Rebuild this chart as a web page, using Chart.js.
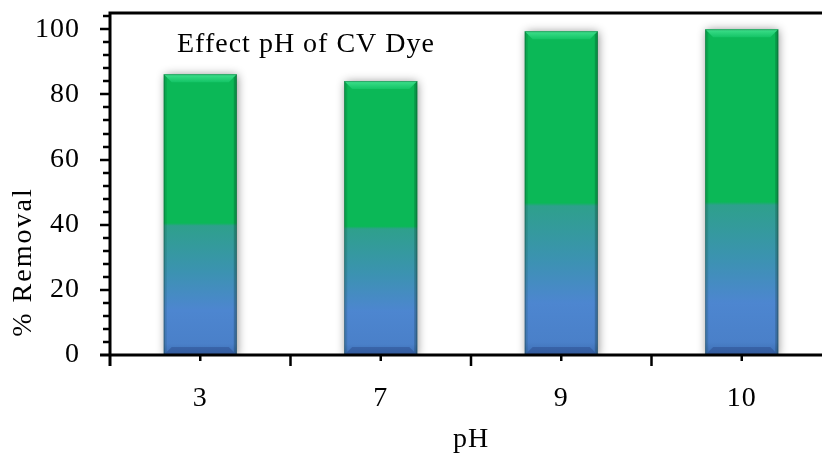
<!DOCTYPE html>
<html>
<head>
<meta charset="utf-8">
<script src="https://cdn.jsdelivr.net/npm/chart.js@4.4.0/dist/chart.umd.min.js"></script>
<style>
  html, body { margin: 0; padding: 0; background: #fff; overflow: hidden; }
  #wrap { width: 840px; height: 456px; }
</style>
</head>
<body>
<div id="wrap"><canvas id="grafico"></canvas></div>
<script>
// datos
const categorias = ['3', '7', '9', '10'];
const remocion = [86.2, 84.1, 99.4, 100];
const ticksY = [0, 20, 40, 60, 80, 100];
const etiqueta = 'Effect pH of CV Dye';
const tituloY = '% Removal';

const fuente = "'Liberation Serif', 'Times New Roman', serif";

function degradado(ctx) {
  const chart = ctx.chart;
  if (!chart.chartArea) return '#0bb857';
  const y = chart.scales.y;
  const tope = y.getPixelForValue(ctx.raw);
  const base = y.getPixelForValue(0);
  const g = chart.ctx.createLinearGradient(0, base, 0, tope);
  g.addColorStop(0, '#3c6db3');
  g.addColorStop(0.04, '#4a80c9');
  g.addColorStop(0.16, '#4d86d0');
  g.addColorStop(0.30, '#3b93b0');
  g.addColorStop(0.46, '#2ea08c');
  g.addColorStop(0.47, '#0bb857');
  g.addColorStop(1, '#0bb857');
  return g;
}

// espaciado de letras para parecerse a Palatino
const letras = {
  id: 'letras',
  beforeDraw(chart) { chart.ctx.letterSpacing = '1px'; }
};

// sombra y biselado de las barras
const bisel = {
  id: 'bisel',
  beforeDatasetsDraw(chart) {
    const c = chart.ctx;
    c.save();
    c.shadowColor = 'rgba(0,0,0,0.45)';
    c.shadowBlur = 9;
    c.shadowOffsetX = 1;
    c.shadowOffsetY = 1;
  },
  afterDatasetsDraw(chart) {
    const c = chart.ctx;
    c.restore();
    const b = 8;
    chart.getDatasetMeta(0).data.forEach(bar => {
      const l = bar.x - bar.width / 2, r = bar.x + bar.width / 2;
      const t = bar.y, base = bar.base;
      c.save();
      // arriba
      let g = c.createLinearGradient(0, t, 0, t + b);
      g.addColorStop(0, '#3fe08c');
      g.addColorStop(1, '#14c466');
      c.fillStyle = g;
      c.beginPath();
      c.moveTo(l, t); c.lineTo(r, t); c.lineTo(r - b, t + b); c.lineTo(l + b, t + b);
      c.closePath(); c.fill();
      // lados
      c.fillStyle = 'rgba(0,40,20,0.12)';
      c.beginPath();
      c.moveTo(l, t); c.lineTo(l + 3, t + 3); c.lineTo(l + 3, base - 3); c.lineTo(l, base);
      c.closePath(); c.fill();
      c.fillStyle = 'rgba(0,30,20,0.22)';
      c.beginPath();
      c.moveTo(r, t); c.lineTo(r - 3, t + 3); c.lineTo(r - 3, base - 3); c.lineTo(r, base);
      c.closePath(); c.fill();
      // abajo
      c.fillStyle = 'rgba(30,50,110,0.3)';
      c.beginPath();
      c.moveTo(l, base); c.lineTo(r, base); c.lineTo(r - b, base - b); c.lineTo(l + b, base - b);
      c.closePath(); c.fill();
      c.strokeStyle = 'rgba(20,60,40,0.35)';
      c.lineWidth = 1;
      c.strokeRect(l + 0.5, t + 0.5, bar.width - 1, base - t - 1);
      c.restore();
    });
  }
};

// ejes, marcas y textos
const ejes = {
  id: 'ejes',
  afterDraw(chart) {
    const c = chart.ctx;
    const a = chart.chartArea;
    const y = chart.scales.y, x = chart.scales.x;
    c.save();
    c.strokeStyle = '#000';
    c.lineCap = 'butt';
    c.lineWidth = 3;
    c.beginPath();
    c.moveTo(a.left, a.top); c.lineTo(a.right, a.top);
    c.moveTo(a.left, a.top - 1.5); c.lineTo(a.left, a.bottom + 11);
    c.moveTo(a.left - 10, a.bottom); c.lineTo(a.right, a.bottom);
    c.stroke();
    c.lineWidth = 2.5;
    c.beginPath();
    for (let v = 4; v <= 104; v += 4) {
      const py = Math.round(y.getPixelForValue(v));
      const largo = v % 20 === 0 ? 10 : 7;
      c.moveTo(a.left - largo, py); c.lineTo(a.left, py);
    }
    const ancho = (a.right - a.left) / categorias.length;
    for (let i = 0; i < categorias.length; i++) {
      const cx = x.getPixelForValue(i);
      c.moveTo(cx, a.bottom); c.lineTo(cx, a.bottom + 6);
      const bx = a.left + ancho * (i + 1);
      c.moveTo(bx, a.bottom); c.lineTo(bx, a.bottom + 11);
    }
    c.stroke();
    c.fillStyle = '#000';
    c.font = '28px ' + fuente;
    c.textBaseline = 'alphabetic';
    c.fillText(etiqueta, a.left + 67, 52);
    // titulo del eje y, algo mas abajo que el centro
    c.translate(31, 262);
    c.rotate(-Math.PI / 2);
    c.textAlign = 'center';
    c.letterSpacing = '2px';
    c.fillText(tituloY, 0, 0);
    c.restore();
  }
};

new Chart(document.getElementById('grafico'), {
  type: 'bar',
  data: {
    labels: categorias,
    datasets: [{
      data: remocion,
      backgroundColor: degradado,
      borderWidth: 0,
      categoryPercentage: 1,
      barPercentage: 0.405
    }]
  },
  options: {
    responsive: true,
    maintainAspectRatio: false,
    animation: false,
    layout: { padding: { top: 13, right: 8, left: 0, bottom: 0 } },
    plugins: { legend: { display: false }, tooltip: { enabled: false } },
    scales: {
      x: {
        grid: { display: false },
        border: { display: false },
        ticks: { color: '#000', padding: 19, font: { family: fuente, size: 28 }, maxRotation: 0 },
        title: { display: true, text: 'pH', color: '#000', font: { family: fuente, size: 28 }, padding: 0 },
        afterFit: s => { s.height = 101; s.paddingLeft = 0; s.paddingRight = 0; }
      },
      y: {
        min: 0,
        max: 105,
        grid: { display: false },
        border: { display: false },
        afterBuildTicks: s => { s.ticks = ticksY.map(v => ({ value: v })); },
        ticks: { color: '#000', padding: 22, font: { family: fuente, size: 28 } },
        afterFit: s => { s.width = 110; s.paddingTop = 0; s.paddingBottom = 0; }
      }
    }
  },
  plugins: [letras, bisel, ejes]
});
</script>
</body>
</html>
